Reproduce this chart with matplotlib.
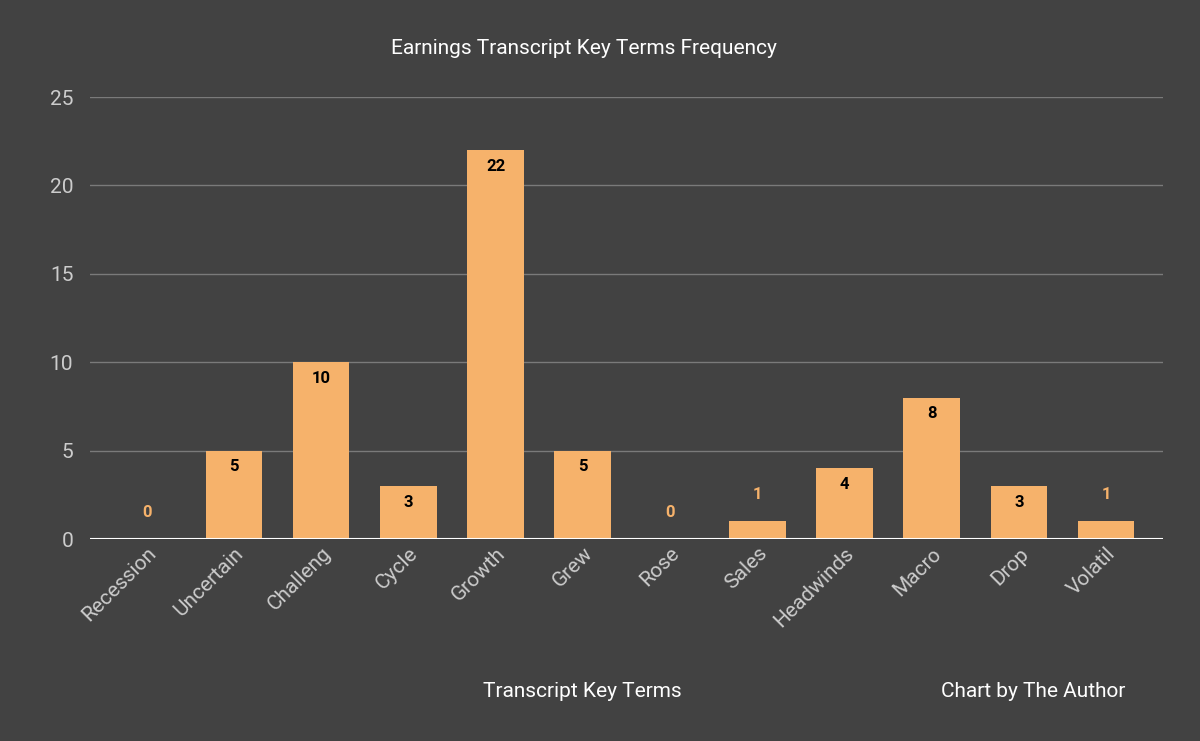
import matplotlib
matplotlib.use("Agg")
import matplotlib.pyplot as plt

terms = ["Recession", "Uncertain", "Challeng", "Cycle", "Growth", "Grew",
         "Rose", "Sales", "Headwinds", "Macro", "Drop", "Volatil"]
counts = [0, 5, 10, 3, 22, 5, 0, 1, 4, 8, 3, 1]
yticks = [0, 5, 10, 15, 20, 25]

bg = "#424242"
bar_color = "#F6B26B"
plt.rcParams["font.family"] = "Roboto"

fig = plt.figure(figsize=(12, 7.41), dpi=100, facecolor=bg)
ax = fig.add_axes([0.075, 0.2726, 0.894, 0.5964], facecolor=bg)

x = range(len(terms))
ax.bar(x, counts, width=0.65, color=bar_color, zorder=3)
for i, v in enumerate(counts):
    if v >= 3:
        ax.text(i, v - 0.5, str(v), ha="center", va="top", color="black",
                fontsize=12, fontweight="bold", zorder=4)
    else:
        ax.text(i, v + 1.1, str(v), ha="center", va="bottom", color=bar_color,
                fontsize=12, fontweight="bold", zorder=4)

ax.set_ylim(0, 25)
ax.set_xlim(-0.65, len(terms) - 0.35)
ax.set_yticks(yticks)
ax.grid(axis="y", color="#7a7a7a", linewidth=1, zorder=0)
ax.axhline(0, color="white", linewidth=1.5, zorder=5)
for s in ax.spines.values():
    s.set_visible(False)
ax.tick_params(axis="both", length=0, colors="#cccccc", labelsize=15)
ax.tick_params(axis="y", pad=12)
ax.set_xticks(list(x))
ax.set_xticklabels(terms, rotation=45, ha="right", rotation_mode="anchor")

fig.text(0.487, 0.935, "Earnings Transcript Key Terms Frequency", ha="center",
         va="center", color="white", fontsize=15)
fig.text(0.485, 0.067, "Transcript Key Terms", ha="center", va="center",
         color="white", fontsize=15)
fig.text(0.861, 0.067, "Chart by The Author", ha="center", va="center",
         color="white", fontsize=15)

fig.savefig("out.png", dpi=100, facecolor=bg)
